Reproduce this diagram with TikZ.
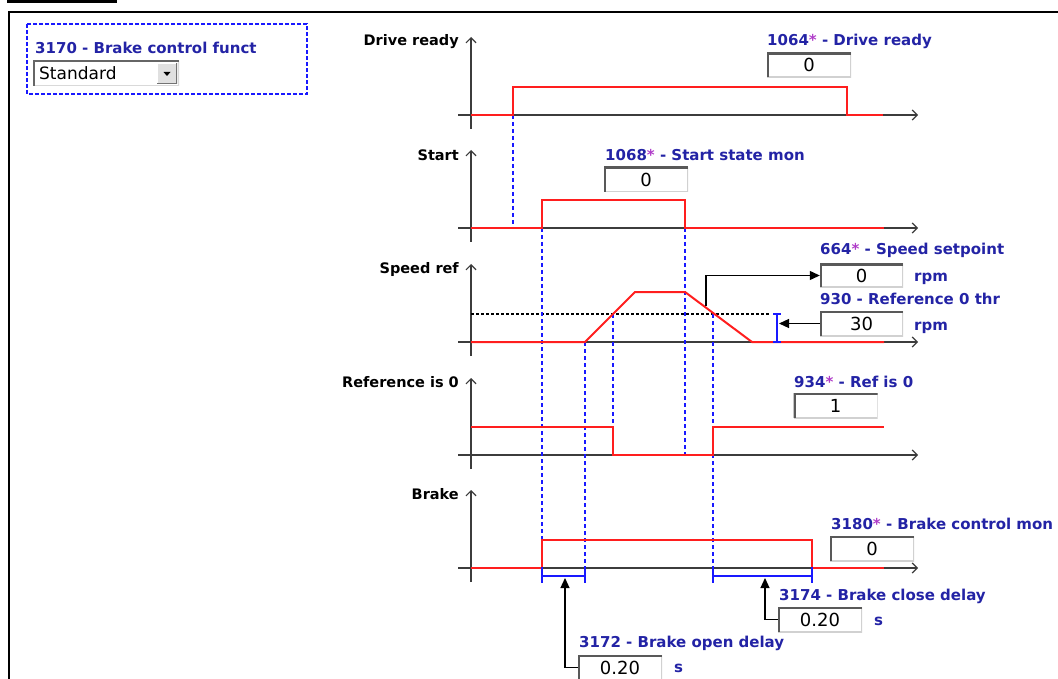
\documentclass[tikz,border=0pt]{standalone}
\usepackage{fontspec}
\setmainfont{DejaVu Sans}
\usetikzlibrary{arrows.meta}
\definecolor{lblue}{RGB}{35,35,165}
\definecolor{ast}{RGB}{175,60,200}
\definecolor{sig}{RGB}{255,30,30}
\definecolor{dblue}{RGB}{25,25,255}
\definecolor{axisc}{RGB}{60,60,60}
\newcommand{\as}{{\color{ast}*}}
\tikzset{
  lbl/.style={font=\fontsize{15}{17}\selectfont\bfseries, text=lblue, inner sep=0pt, anchor=mid west},
  axlbl/.style={font=\fontsize{14.5}{17}\selectfont\bfseries, text=black, inner sep=0pt, anchor=mid east},
  valbox/.style={rectangle, fill=white, minimum width=84pt, minimum height=25pt, inner sep=0pt,
    font=\fontsize{18}{20}\selectfont,
    path picture={
      \draw[line width=2pt, black!18] (path picture bounding box.north east) -- (path picture bounding box.south east) -- (path picture bounding box.south west);
      \draw[line width=4.5pt, black!65] (path picture bounding box.south west) -- (path picture bounding box.north west) -- (path picture bounding box.north east);
    }},
  signal/.style={draw=sig, line width=2pt},
  axis/.style={draw=axisc, line width=1.2pt, -{Straight Barb[length=5pt,width=10pt]}},
  guide/.style={draw=dblue, line width=1.5pt, dash pattern=on 4pt off 3pt},
  thr/.style={draw=black, line width=1.2pt, dash pattern=on 3pt off 2pt},
  delaybar/.style={draw=dblue, line width=2pt},
  ptr/.style={draw=black, line width=1.2pt, -{Triangle[length=10pt,width=9pt]}},
}
\begin{document}
\begin{tikzpicture}[x=1pt,y=-1pt]
\useasboundingbox (0,0) rectangle (1058,679);
\clip (0,0) rectangle (1058,679);
% frame
\draw[line width=3pt] (7,1.5) -- (117,1.5);
\draw[line width=2.8pt] (1060,12) -- (9,12) -- (9,682);
% parameter panel
\draw[dblue, line width=2pt, dash pattern=on 4pt off 2pt] (27,24) rectangle (307,94);
\node[lbl] (p3170) at (35,51) {3170 - Brake control funct};
\node[rectangle, fill=white, minimum width=146pt, minimum height=25pt, inner sep=0pt,
  path picture={
      \draw[line width=2pt, black!15] (path picture bounding box.north east) -- (path picture bounding box.south east) -- (path picture bounding box.south west);
      \draw[line width=3pt, black!60] (path picture bounding box.south west) -- (path picture bounding box.north west) -- (path picture bounding box.north east);
  }] (dd) at (106,73.5) {};
\node[anchor=mid west, inner sep=0pt, font=\fontsize{17}{19}\selectfont] (ddtext) at (39,77) {Standard};
\node[rectangle, fill=black!12, minimum width=20pt, minimum height=21pt, inner sep=0pt,
  path picture={
      \draw[line width=2pt, white] (path picture bounding box.south west) -- (path picture bounding box.north west) -- (path picture bounding box.north east);
      \draw[line width=2.5pt, black!55] (path picture bounding box.north east) -- (path picture bounding box.south east) -- (path picture bounding box.south west);
  }] (ddbtn) at (167,73.5) {};
\fill (163.5,72) -- (170.5,72) -- (167,76) -- cycle;

% axes
\foreach \y/\t in {115/37,228/150,342/264,455/378,568/490}{
  \draw[axis] (458,\y) -- (918,\y);
  \draw[axis] (471,\y+14) -- (471,\t);
}
\node[axlbl] (lDR) at (459,43) {Drive ready};
\node[axlbl] (lST) at (459,158) {Start};
\node[axlbl] (lSR) at (459,271) {Speed ref};
\node[axlbl] (lR0) at (459,385) {Reference is 0};
\node[axlbl] (lBR) at (459,497) {Brake};

% threshold line
\draw[thr] (471,314) -- (770,314);

% guides
\draw[guide] (513,115) -- (513,228);
\draw[guide] (542,200) -- (542,583);
\draw[guide] (585,342) -- (585,583);
\draw[guide] (613,314) -- (613,455);
\draw[guide] (685,200) -- (685,455);
\draw[guide] (713,314) -- (713,583);

% signals
\draw[signal] (471,115) -- (513,115) -- (513,87) -- (847,87) -- (847,115) -- (883,115);
\draw[signal] (471,228) -- (542,228) -- (542,200) -- (685,200) -- (685,228) -- (884,228);
\draw[signal] (471,342) -- (585,342) -- (635,292) -- (685,292) -- (752,342) -- (884,342);
\draw[signal] (471,427) -- (613,427) -- (613,455) -- (713,455) -- (713,427) -- (884,427);
\draw[signal] (471,568) -- (542,568) -- (542,540) -- (812,540) -- (812,568) -- (884,568);

% threshold I-bar
\draw[delaybar] (773,314) -- (781,314) (777,314) -- (777,342) (773,342) -- (781,342);
% delay bars
\draw[delaybar] (542,567) -- (542,583) (542,576) -- (585,576) (585,567) -- (585,583);
\draw[delaybar] (713,567) -- (713,583) (713,576) -- (812,576) (812,567) -- (812,583);

% labels and value boxes
\node[lbl] (l1064) at (767,43) {1064\as{} - Drive ready};
\node[valbox] (b1064) at (809,65) {0};
\node[lbl] (l1068) at (605,158) {1068\as{} - Start state mon};
\node[valbox] (b1068) at (646,179.5) {0};
\node[lbl] (l664) at (820,252) {664\as{} - Speed setpoint};
\node[valbox, minimum width=83pt, minimum height=24pt] (b664) at (861.5,275.5) {0};
\node[lbl] (u664) at (914,279) {rpm};
\node[lbl] (l930) at (820,302) {930 - Reference 0 thr};
\node[valbox, minimum width=83pt] (b930) at (861.5,323.5) {30};
\node[lbl] (u930) at (914,328) {rpm};
\node[lbl] (l934) at (794,385) {934\as{} - Ref is 0};
\node[valbox] (b934) at (835.5,405.5) {1};
\node[lbl] (l3180) at (831,527) {3180\as{} - Brake control mon};
\node[valbox] (b3180) at (872,548.5) {0};
\node[lbl] (l3174) at (779,598) {3174 - Brake close delay};
\node[valbox] (b3174) at (820,619.5) {0.20};
\node[lbl] (u3174) at (874,623) {s};
\node[lbl] (l3172) at (579,645) {3172 - Brake open delay};
\node[valbox] (b3172) at (620,667.5) {0.20};
\node[lbl] (u3172) at (674,670) {s};

% pointers
\coordinate (spd) at (706,306);
\coordinate (thrtip) at (779,323.5);
\coordinate (odtip) at (565,578);
\coordinate (cdtip) at (765,578);
\draw[ptr] (spd) |- (b664.west);
\draw[ptr] (b930.west) -- (thrtip);
\draw[ptr] (b3172.west) -| (odtip);
\draw[ptr] (b3174.west) -| (cdtip);
\end{tikzpicture}
\end{document}
